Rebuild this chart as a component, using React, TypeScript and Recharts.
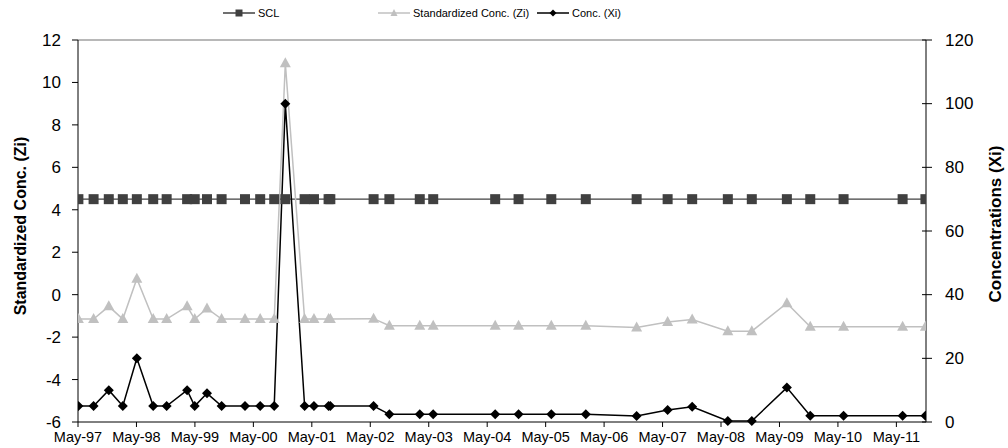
import React from "react";
import {
  ComposedChart,
  Line,
  XAxis,
  YAxis,
  Legend,
  ReferenceLine,
} from "recharts";

// sampling dates as decimal years (May-97 = 1997.333)
const sampleYears = [
  1997.34, 1997.6, 1997.86, 1998.1, 1998.34, 1998.62, 1998.85, 1999.2, 1999.33,
  1999.54, 1999.79, 2000.19, 2000.45, 2000.69, 2000.88, 2001.21, 2001.37,
  2001.62, 2001.65, 2002.39, 2002.66, 2003.18, 2003.41, 2004.47, 2004.87,
  2005.43, 2006.02, 2006.89, 2007.42, 2007.84, 2008.45, 2008.86, 2009.46,
  2009.86, 2010.43, 2011.44, 2011.83,
];

const concXi = [
  5, 5, 10, 5, 20, 5, 5, 10, 5, 9, 5, 5, 5, 5, 100, 5, 5, 5, 5, 5, 2.4, 2.4,
  2.4, 2.4, 2.4, 2.4, 2.4, 1.9, 3.8, 4.8, 0.3, 0.3, 10.8, 2.0, 2.0, 2.0, 2.0,
];

const standardizedZi = [
  -1.15, -1.15, -0.55, -1.15, 0.75, -1.15, -1.15, -0.55, -1.15, -0.65, -1.15,
  -1.15, -1.15, -1.15, 10.9, -1.15, -1.15, -1.15, -1.15, -1.13, -1.46, -1.46,
  -1.46, -1.46, -1.46, -1.46, -1.46, -1.55, -1.29, -1.17, -1.72, -1.72, -0.4,
  -1.51, -1.51, -1.51, -1.51,
];

const SCL_LEVEL = 4.5;

const tickYears = [
  1997, 1998, 1999, 2000, 2001, 2002, 2003, 2004, 2005, 2006, 2007, 2008, 2009,
  2010, 2011,
];
const ziTicks = [-6, -4, -2, 0, 2, 4, 6, 8, 10, 12];
const xiTicks = [0, 20, 40, 60, 80, 100, 120];

const MAY = 4 / 12;
const data = sampleYears.map((year, i) => ({
  year,
  scl: SCL_LEVEL,
  zi: standardizedZi[i],
  xi: concXi[i],
}));

const FONT = "'Liberation Sans', Arial, sans-serif";
const SCL_COLOR = "#404040";
const ZI_COLOR = "#c0c0c0";
const XI_COLOR = "#000000";

const SquareDot = (props: any) => {
  const { cx, cy } = props;
  if (cx == null || cy == null) return null;
  return <rect x={cx - 5} y={cy - 5} width={10} height={10} fill={SCL_COLOR} />;
};

const TriangleDot = (props: any) => {
  const { cx, cy } = props;
  if (cx == null || cy == null) return null;
  return (
    <polygon
      points={`${cx},${cy - 6} ${cx + 5.5},${cy + 4} ${cx - 5.5},${cy + 4}`}
      fill={ZI_COLOR}
    />
  );
};

const DiamondDot = (props: any) => {
  const { cx, cy } = props;
  if (cx == null || cy == null) return null;
  return (
    <polygon
      points={`${cx},${cy - 5} ${cx + 5},${cy} ${cx},${cy + 5} ${cx - 5},${cy}`}
      fill={XI_COLOR}
    />
  );
};

const legendItems = [
  { label: "SCL", color: SCL_COLOR, x: 223, marker: "square" },
  { label: "Standardized Conc. (Zi)", color: ZI_COLOR, x: 378, marker: "triangle" },
  { label: "Conc. (Xi)", color: XI_COLOR, x: 537, marker: "diamond" },
];

const renderLegend = () => (
  <svg width={1008} height={24}>
    {legendItems.map((it) => {
      const cy = 13;
      const mx = it.x + 16;
      let marker;
      if (it.marker === "square")
        marker = <rect x={mx - 3.5} y={cy - 3.5} width={7} height={7} fill={it.color} />;
      else if (it.marker === "triangle")
        marker = (
          <polygon
            points={`${mx},${cy - 4} ${mx + 3.5},${cy + 3} ${mx - 3.5},${cy + 3}`}
            fill={it.color}
          />
        );
      else
        marker = (
          <polygon
            points={`${mx},${cy - 3.5} ${mx + 3.5},${cy} ${mx},${cy + 3.5} ${mx - 3.5},${cy}`}
            fill={it.color}
          />
        );
      return (
        <g key={it.label}>
          <line x1={it.x} x2={it.x + 32} y1={cy} y2={cy} stroke={it.color} strokeWidth={1.5} />
          {marker}
          <text
            x={it.x + 35}
            y={cy}
            dominantBaseline="central"
            fontFamily={FONT}
            fontSize={11}
            fill="#000"
          >
            {it.label}
          </text>
        </g>
      );
    })}
  </svg>
);

const RightTick = (props: any) => {
  const { x, y, payload } = props;
  return (
    <g>
      <line x1={x - 23} x2={x - 13} y1={y} y2={y} stroke="#000" />
      <text
        x={x}
        y={y}
        dominantBaseline="central"
        fontFamily={FONT}
        fontSize={17}
        fill="#000"
      >
        {payload.value}
      </text>
    </g>
  );
};

export default function App() {
  return (
    <div style={{ position: "absolute", left: 0, top: 0, background: "#fff" }}>
      <ComposedChart
        width={1008}
        height={448}
        data={data}
        margin={{ top: 16, right: 0, bottom: 0, left: 0 }}
      >
        <Legend
          verticalAlign="top"
          align="left"
          content={renderLegend}
          wrapperStyle={{ top: 0, left: 0, width: 1008, height: 24 }}
        />
        <XAxis
          dataKey="year"
          type="number"
          domain={[1997 + MAY, 2011.84]}
          allowDataOverflow
          ticks={tickYears.map((y) => y + MAY)}
          tickFormatter={(v: number) => `May-${String(Math.round(v - MAY)).slice(2)}`}
          interval={0}
          height={26}
          stroke="#000"
          tickSize={5}
          tickMargin={5}
          tick={{ fontFamily: FONT, fontSize: 14.5, fill: "#000" }}
        />
        <YAxis
          yAxisId="zi"
          domain={[-6, 12]}
          ticks={ziTicks}
          interval={0}
          width={78}
          stroke="#000"
          tickSize={6}
          tickMargin={11}
          tick={{ fontFamily: FONT, fontSize: 17, fill: "#000" }}
          label={(p: any) => {
            const vb = p.viewBox;
            const cx = 20;
            const cy = vb.y + vb.height / 2 - 5;
            return (
              <text
                x={cx}
                y={cy}
                transform={`rotate(-90 ${cx} ${cy})`}
                textAnchor="middle"
                dominantBaseline="central"
                fontFamily={FONT}
                fontWeight="bold"
                fontSize={16}
                fill="#000"
              >
                Standardized Conc. (Zi)
              </text>
            );
          }}
        />
        <YAxis
          yAxisId="xi"
          orientation="right"
          domain={[0, 120]}
          ticks={xiTicks}
          interval={0}
          width={82}
          stroke="#000"
          tickLine={false}
          tickSize={5}
          tickMargin={14}
          tick={<RightTick />}
          label={(p: any) => {
            const vb = p.viewBox;
            const cx = vb.x + 69;
            const cy = vb.y + vb.height / 2 - 7;
            return (
              <text
                x={cx}
                y={cy}
                transform={`rotate(-90 ${cx} ${cy})`}
                textAnchor="middle"
                dominantBaseline="central"
                fontFamily={FONT}
                fontWeight="bold"
                fontSize={17}
                fill="#000"
              >
                Concentrations (Xi)
              </text>
            );
          }}
        />
        <ReferenceLine yAxisId="zi" y={12} stroke="#a0a0a0" strokeWidth={1.5} />
        <Line
          yAxisId="zi"
          dataKey="scl"
          name="SCL"
          stroke={SCL_COLOR}
          strokeWidth={1.3}
          dot={<SquareDot />}
          activeDot={false}
          isAnimationActive={false}
        />
        <Line
          yAxisId="zi"
          dataKey="zi"
          name="Standardized Conc. (Zi)"
          stroke={ZI_COLOR}
          strokeWidth={1.5}
          dot={<TriangleDot />}
          activeDot={false}
          isAnimationActive={false}
        />
        <Line
          yAxisId="xi"
          dataKey="xi"
          name="Conc. (Xi)"
          stroke={XI_COLOR}
          strokeWidth={1.5}
          dot={<DiamondDot />}
          activeDot={false}
          isAnimationActive={false}
        />
      </ComposedChart>
    </div>
  );
}
